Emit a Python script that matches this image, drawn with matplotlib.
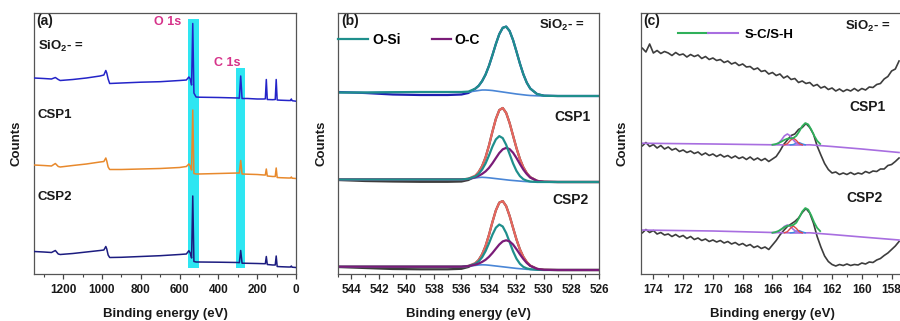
import matplotlib
matplotlib.use("Agg")
import matplotlib.pyplot as plt
from matplotlib.ticker import MultipleLocator
from matplotlib.lines import Line2D
from matplotlib.legend_handler import HandlerTuple

plt.rcParams["font.family"] = ["Liberation Sans", "DejaVu Sans"]
plt.rcParams["font.weight"] = "bold"
plt.rcParams["mathtext.fontset"] = "custom"
plt.rcParams["mathtext.rm"] = "Liberation Sans:bold"
plt.rcParams["mathtext.bf"] = "Liberation Sans:bold"
plt.rcParams["mathtext.it"] = "Liberation Sans:bold"

# ---------------- (a) survey spectra (counts offset per sample) ----------------
be_a = [1350, 1300, 1260, 1240, 1225, 1215, 1150, 1080, 1010, 990, 980, 975, 968, 960,
        900, 800, 700, 600, 565, 552, 545, 538, 532, 526, 515, 500, 400, 300, 292, 285,
        278, 250, 200, 165, 158, 153, 148, 120, 107, 102, 97, 80, 40, 28, 24, 20, 0]
sio2_a = [196, 195.5, 195, 196.5, 194.5, 193.5, 194.5, 196, 198, 199, 203.5, 201, 195, 190.5,
          191, 191.8, 192.3, 193.5, 194, 197, 195, 189, 250.5, 181, 177, 176.8, 176.5, 176, 175.8, 198,
          175.5, 175.5, 175, 175, 175.2, 194.5, 174.5, 174.3, 174.5, 194.5, 174, 173.8, 173.5, 173.5, 175, 173.3, 172.8]
csp1_a = [109, 108.5, 108, 110.5, 107.5, 107, 108.5, 110, 112, 112.5, 116, 113, 107, 104.5,
          104.5, 105, 105.5, 106.5, 107.5, 110, 108, 104, 164, 100.5, 100, 100, 100.5, 101, 101, 113.5,
          100, 99.8, 99.5, 99, 99, 105, 98, 97.5, 97.5, 106, 96.5, 96.3, 96, 96, 97, 95.8, 95.5]
csp2_a = [22.5, 22, 21.5, 23.5, 20, 19.5, 20.5, 22, 23.5, 24, 27.5, 25, 19, 16.5,
          16.7, 17.5, 18.3, 19.5, 20, 23.3, 21, 16, 78, 12.5, 12, 12, 11.8, 11.5, 11.3, 23.5,
          10.8, 10.7, 10.5, 10.3, 10.3, 17.5, 9.5, 9, 9, 18, 7.5, 7.3, 7, 7, 8, 6.8, 6.5]
# highlighted regions: (label, high BE, low BE, top)
bands = [("O 1s", 559, 498, 255), ("C 1s", 309, 261, 206)]

# ---------------- (b) O 1s fits ----------------
be_b = [545, 543, 541, 539, 537, 536, 535.5, 535, 534.75, 534.5, 534.25, 534, 533.75, 533.5,
        533.25, 533, 532.75, 532.5, 532.25, 532, 531.75, 531.5, 531.25, 531, 530.5, 530, 529, 527, 526]
raw_sio2_b = [182, 181, 179.5, 179, 179, 179.5, 181, 185.3, 188.2, 192.9, 199.4, 208.2, 218.8, 230,
              239.9, 246.2, 247.4, 243, 234, 222.4, 210.4, 199.7, 191.3, 185.5, 179.9, 178.3, 178, 178, 178]
env_sio2_b = [181.5, 181.5, 181.8, 182, 182, 182, 182.4, 185.3, 188.2, 192.9, 199.4, 208.2, 218.8, 230,
              239.9, 246.2, 247.4, 243, 234, 222.4, 210.4, 199.7, 191.3, 185.5, 179.9, 178.3, 178, 178, 178]
bg_sio2_b = [181.5, 181.5, 181.8, 182, 182, 182, 182, 183, 183.5, 184, 184, 183.8, 183.5, 183,
             182.5, 182, 181.5, 181, 180.5, 180, 179.6, 179.2, 178.8, 178.5, 178.2, 178, 178, 178, 178]

raw_csp1_b = [94, 93, 92.5, 92.2, 92.2, 92.5, 94, 97.5, 101.9, 107.8, 116.6, 128.5, 142.3, 155.1,
              163.9, 166.0, 161.1, 151.0, 138.4, 125.9, 115.0, 106.6, 100.8, 96.8, 93.1, 92.2, 92, 92, 92]
bg_csp1_b = [94.5, 94.5, 94.5, 94.5, 94.5, 94.5, 95, 96, 96.5, 96.7, 96.5, 96.2, 95.8, 95.4,
             95, 94.6, 94.2, 93.8, 93.5, 93.2, 92.9, 92.6, 92.4, 92.2, 92, 92, 92, 92, 92]
osi_csp1_b = [94.5, 94.5, 94.5, 94.5, 94.5, 94.5, 95.2, 97.6, 100.2, 104.4, 110.5, 118.6, 127.4, 134.6,
              137.9, 135.9, 129.2, 119.9, 110.6, 103.1, 97.9, 94.8, 93.3, 92.5, 92, 92, 92, 92, 92]
oc_csp1_b = [94.5, 94.5, 94.5, 94.5, 94.5, 94.5, 95.1, 96.8, 98.2, 100.1, 102.6, 106.1, 110.7, 115.9,
             121.0, 124.7, 126.1, 124.9, 121.3, 116.0, 110.0, 104.4, 99.9, 96.5, 93.1, 92.2, 92, 92, 92]
env_csp1_b = [94.5, 94.5, 94.5, 94.5, 94.5, 94.5, 95.3, 98.4, 101.9, 107.8, 116.6, 128.5, 142.3, 155.1,
              163.9, 166.0, 161.1, 151.0, 138.4, 125.9, 115.0, 106.6, 100.8, 96.8, 93.1, 92.2, 92, 92, 92]

raw_csp2_b = [7, 6, 5, 4.7, 4.7, 5.2, 7, 10.5, 14.0, 19.6, 27.9, 39.1, 51.9, 63.6,
              71.4, 72.9, 67.9, 58.1, 46.2, 34.5, 24.6, 17.1, 11.9, 8.4, 5.1, 4.2, 4, 4, 4]
bg_csp2_b = [7.3, 7.3, 7.3, 7.3, 7.3, 7.3, 7.8, 8.6, 9.0, 9.2, 9.1, 8.8, 8.4, 8.0,
             7.6, 7.2, 6.8, 6.4, 6.0, 5.6, 5.3, 5.0, 4.7, 4.5, 4.2, 4, 4, 4, 4]
osi_csp2_b = [7.3, 7.3, 7.3, 7.3, 7.3, 7.3, 8.0, 10.2, 12.6, 16.7, 22.8, 30.7, 39.3, 46.3,
              49.5, 47.5, 41.0, 31.9, 22.7, 15.3, 10.2, 7.1, 5.6, 4.8, 4.2, 4, 4, 4, 4]
oc_csp2_b = [7.3, 7.3, 7.3, 7.3, 7.3, 7.3, 7.9, 9.3, 10.4, 12.1, 14.2, 17.2, 21.0, 25.3,
             29.5, 32.6, 33.7, 32.6, 29.5, 24.8, 19.7, 15.0, 11.0, 8.1, 5.1, 4.2, 4, 4, 4]
env_csp2_b = [7.3, 7.3, 7.3, 7.3, 7.3, 7.3, 8.1, 10.9, 14.0, 19.6, 27.9, 39.1, 51.9, 63.6,
              71.4, 72.9, 67.9, 58.1, 46.2, 34.5, 24.6, 17.1, 11.9, 8.4, 5.1, 4.2, 4, 4, 4]

# ---------------- (c) S 2p ----------------
be_c = [175.0, 174.75, 174.5, 174.25, 174.0, 173.75, 173.5, 173.25, 173.0, 172.75, 172.5, 172.25,
        172.0, 171.75, 171.5, 171.25, 171.0, 170.75, 170.5, 170.25, 170.0, 169.75, 169.5, 169.25,
        169.0, 168.75, 168.5, 168.25, 168.0, 167.75, 167.5, 167.25, 167.0, 166.75, 166.5, 166.25,
        166.0, 165.75, 165.5, 165.25, 165.0, 164.75, 164.5, 164.25, 164.0, 163.75, 163.5, 163.25,
        163.0, 162.75, 162.5, 162.25, 162.0, 161.75, 161.5, 161.25, 161.0, 160.75, 160.5, 160.25,
        160.0, 159.75, 159.5, 159.25, 159.0, 158.75, 158.5, 158.25, 158.0, 157.75, 157.5]
sio2_c = [223.5, 226, 222, 230, 221, 223.5, 220.5, 222.5, 221, 218.5, 221.5, 219,
          220, 217, 219.5, 217.5, 219, 215.5, 217.5, 214.5, 216, 213.5, 214.5, 211.5,
          213, 210, 211.5, 208.5, 210, 207, 207.5, 204.5, 206, 202.5, 203.5, 200,
          201.5, 198.5, 200, 196, 198, 194.5, 195.5, 191.5, 193, 190.5, 191.5, 188,
          189.5, 186, 187.5, 184.5, 186, 183, 185, 182.5, 184.5, 183, 185.5, 183,
          185.5, 184, 187, 186.5, 189.5, 190.5, 195, 197.5, 203, 205, 213]
csp1_c = [130, 128, 131.5, 127.5, 129.5, 126, 128.5, 125, 127, 124, 125.5, 122.5,
          124, 121.5, 123, 120.5, 122, 119, 121, 118.5, 120, 117.5, 119.5, 117,
          118.5, 116, 118, 115.5, 117, 114.5, 117, 114, 116, 113.5, 115.5, 112.5,
          115, 117.5, 123, 129.5, 134, 138.5, 140, 144.5, 146.5, 150.5, 146.5, 140,
          128, 119, 110.5, 104.5, 101, 102, 99.5, 101, 99.5, 101.5, 99.5, 101,
          100, 102.5, 101, 103, 102.5, 105, 105, 108.5, 109.5, 112.5, 116]
csp2_c = [42.5, 41, 44.5, 41.5, 43.5, 40, 41.5, 39, 40, 37.5, 39.5, 37,
          38.5, 35.5, 37.5, 34.5, 36, 33.5, 35, 32.5, 34, 32, 33.5, 31,
          32.5, 30, 31.5, 29, 30.5, 28, 29.5, 26.5, 28, 25.5, 27, 24.5,
          29, 33.5, 39, 43.5, 47.5, 50, 52.5, 56, 61.5, 65.5, 61, 51,
          37.5, 27, 18, 12.5, 9.5, 8, 9.5, 8.5, 10, 8.5, 9.5, 9,
          11, 10, 12, 11.5, 14, 15.5, 18.5, 21, 24.5, 28, 32.5]
# fitted background lines
be_bg_c = [175, 170, 166, 164.5, 163.5, 162, 160, 157.5]
bg_csp1_c = [130.8, 130, 129.2, 129, 129.2, 127.5, 125, 121.5]
bg_csp2_c = [44, 43, 41.5, 41, 41.2, 39.5, 37, 34]
# fitted components
be_pk = [166.0, 165.8, 165.6, 165.4, 165.2, 165.0, 164.8, 164.6, 164.4, 164.2, 164.0,
         163.8, 163.6, 163.4, 163.2, 163.0, 162.8]
sc_csp1 = [129.3, 129.8, 130.8, 132.4, 134.1, 135.3, 135.6, 136.0, 138.1, 142.6, 147.9,
           150.9, 149.6, 144.6, 138.3, 133.2, 130.1]
sc_csp2 = [41.3, 41.9, 43.0, 44.9, 46.8, 48.2, 48.5, 49.0, 51.3, 56.5, 62.5,
           65.9, 64.4, 58.7, 51.6, 46.1, 42.9]
be_sh = [166.0, 165.8, 165.6, 165.4, 165.2, 165.0, 164.8, 164.6, 164.4, 164.2, 164.0]
sh_csp1 = [129.1, 129.5, 130.9, 134.0, 138.1, 140.0, 138.1, 134.0, 130.9, 129.5, 129.1]
sh_csp2 = [41.1, 41.4, 42.4, 44.6, 47.6, 49.0, 47.6, 44.6, 42.4, 41.4, 41.1]
be_red = [165.2, 165.0, 164.8, 164.6, 164.4, 164.2, 164.0]
red_csp1 = [129.2, 130.3, 133.6, 136.0, 133.6, 130.3, 129.2]
red_csp2 = [41.2, 42.3, 45.6, 48.0, 45.6, 42.3, 41.2]
be_blue = [164.8, 164.6, 164.4, 164.2, 164.0, 163.8]
blue_csp1 = [129.1, 129.5, 130.9, 131.4, 130.1, 129.2]
blue_csp2 = [41.1, 41.5, 42.9, 43.4, 42.1, 41.2]

TXT = "#1a1a1a"
TEAL = "#1f8f8c"
PURP = "#7a1c78"
RED = "#e8675e"
LBLUE = "#4a86d6"
GRAY = "#3d3d3d"
SIO2 = r"SiO$_{\mathbf{2}}$- ="

fig = plt.figure(figsize=(9, 3.21), dpi=100)
ax_a = fig.add_axes([34 / 900, 47 / 321, 262 / 900, 261 / 321])
ax_b = fig.add_axes([337.7 / 900, 47 / 321, 261.3 / 900, 261 / 321])
ax_c = fig.add_axes([640.7 / 900, 47 / 321, 264.3 / 900, 261 / 321])


def style(ax, xlim, major, minor):
    ax.set_xlim(*xlim)
    ax.set_ylim(0, 261)
    ax.set_yticks([])
    ax.xaxis.set_major_locator(MultipleLocator(major))
    ax.xaxis.set_minor_locator(MultipleLocator(minor))
    ax.tick_params(axis="x", which="major", direction="out", length=3.5, width=0.9,
                   color="#444444", labelsize=8.5, pad=3.5, labelcolor=TXT)
    ax.tick_params(axis="x", which="minor", direction="out", length=2, width=0.8, color="#444444")
    for s in ax.spines.values():
        s.set_color("#555555")
        s.set_linewidth(0.9)
    ax.set_xlabel("Binding energy (eV)", fontsize=9.5, fontweight="bold", color=TXT)
    ax.xaxis.set_label_coords(0.5, -0.13)
    ax.set_ylabel("Counts", fontsize=9.5, fontweight="bold", color=TXT)


# ---- (a)
style(ax_a, (1350, 0), 200, 100)
ax_a.yaxis.set_label_coords(-0.045, 0.5)
for name, hi, lo, top in bands:
    ax_a.fill_between([hi, lo], 6, top, color="#2ee6f2", lw=0, zorder=1)
ax_a.plot(be_a, sio2_a, color="#2424c8", lw=1.1, zorder=3)
ax_a.plot(be_a, csp1_a, color="#e8892c", lw=1.1, zorder=3)
ax_a.plot(be_a, csp2_a, color="#1c1c80", lw=1.1, zorder=3)
ax_a.text(0.511, 0.966, "O 1s", color="#d6338a", fontsize=9, ha="center", va="center", transform=ax_a.transAxes)
ax_a.text(0.737, 0.808, "C 1s", color="#d6338a", fontsize=9, ha="center", va="center", transform=ax_a.transAxes)
ax_a.text(0.008, 0.995, "(a)", fontsize=10, ha="left", va="top", color=TXT, transform=ax_a.transAxes)
ax_a.text(0.015, 0.871, SIO2, fontsize=9.5, ha="left", va="center", color=TXT, transform=ax_a.transAxes)
ax_a.text(0.015, 0.609, "CSP1", fontsize=9.5, ha="left", va="center", color=TXT, transform=ax_a.transAxes)
ax_a.text(0.015, 0.296, "CSP2", fontsize=9.5, ha="left", va="center", color=TXT, transform=ax_a.transAxes)

# ---- (b)
style(ax_b, (545, 526), 2, 1)
ax_b.yaxis.set_label_coords(-0.04, 0.5)
lw = 1.6
ax_b.plot(be_b, raw_sio2_b, color="#1f1fb0", lw=lw)
ax_b.plot(be_b, bg_sio2_b, color=LBLUE, lw=1.2)
ax_b.plot(be_b, env_sio2_b, color=TEAL, lw=lw)

ax_b.plot(be_b, raw_csp1_b, color=GRAY, lw=lw)
ax_b.plot(be_b, bg_csp1_b, color=LBLUE, lw=1.2)
ax_b.plot(be_b, env_csp1_b, color=RED, lw=lw)
h_oc, = ax_b.plot(be_b, oc_csp1_b, color=PURP, lw=lw, label="O-C")
h_osi, = ax_b.plot(be_b, osi_csp1_b, color=TEAL, lw=lw, label="O-Si")

ax_b.plot(be_b, raw_csp2_b, color=GRAY, lw=lw)
ax_b.plot(be_b, bg_csp2_b, color=LBLUE, lw=1.2)
ax_b.plot(be_b, env_csp2_b, color=RED, lw=lw)
ax_b.plot(be_b, osi_csp2_b, color=TEAL, lw=lw)
ax_b.plot(be_b, oc_csp2_b, color=PURP, lw=lw)

leg1 = ax_b.legend(handles=[h_osi], loc="upper left", bbox_to_anchor=(0.0, 0.925),
                   frameon=False, fontsize=10, handlelength=2.2, handletextpad=0.3,
                   borderaxespad=0, borderpad=0)
ax_b.add_artist(leg1)
ax_b.legend(handles=[h_oc], loc="upper left", bbox_to_anchor=(0.361, 0.925),
            frameon=False, fontsize=10, handlelength=1.4, handletextpad=0.2,
            borderaxespad=0, borderpad=0)
ax_b.text(0.012, 0.995, "(b)", fontsize=10, ha="left", va="top", color=TXT, transform=ax_b.transAxes)
ax_b.text(0.947, 0.954, SIO2, fontsize=9.5, ha="right", va="center", color=TXT, transform=ax_b.transAxes)
ax_b.text(0.967, 0.602, "CSP1", fontsize=10, ha="right", va="center", color=TXT, transform=ax_b.transAxes)
ax_b.text(0.959, 0.284, "CSP2", fontsize=10, ha="right", va="center", color=TXT, transform=ax_b.transAxes)

# ---- (c)
style(ax_c, (174.85, 157.1), 2, 1)
ax_c.yaxis.set_label_coords(-0.047, 0.5)
GREEN = "#2fb05a"
LAV = "#a86ee0"
ax_c.plot(be_c, sio2_c, color=GRAY, lw=1.2)
for raw, bg, sc, sh, rd, bl in [(csp1_c, bg_csp1_c, sc_csp1, sh_csp1, red_csp1, blue_csp1),
                                (csp2_c, bg_csp2_c, sc_csp2, sh_csp2, red_csp2, blue_csp2)]:
    ax_c.plot(be_c, raw, color=GRAY, lw=1.2)
    ax_c.plot(be_bg_c, bg, color=LAV, lw=1.2)
    ax_c.plot(be_blue, bl, color="#3a8ee0", lw=1.0)
    ax_c.plot(be_sh, sh, color=LAV, lw=1.2)
    ax_c.plot(be_red, rd, color="#e04848", lw=1.0)
    ax_c.plot(be_pk, sc, color=GREEN, lw=1.3)

h_g = Line2D([], [], color=GREEN, lw=1.5)
h_p = Line2D([], [], color=LAV, lw=1.5)
ax_c.legend(handles=[(h_g, h_p)], labels=["S-C/S-H"], loc="upper left",
            bbox_to_anchor=(0.14, 0.94), frameon=False, fontsize=9.5, handlelength=4.6,
            handletextpad=0.5, borderaxespad=0, borderpad=0,
            handler_map={tuple: HandlerTuple(ndivide=None, pad=0)})
ax_c.text(0.008, 0.995, "(c)", fontsize=10, ha="left", va="top", color=TXT, transform=ax_c.transAxes)
ax_c.text(0.947, 0.947, SIO2, fontsize=9.5, ha="right", va="center", color=TXT, transform=ax_c.transAxes)
ax_c.text(0.928, 0.64, "CSP1", fontsize=10, ha="right", va="center", color=TXT, transform=ax_c.transAxes)
ax_c.text(0.916, 0.293, "CSP2", fontsize=10, ha="right", va="center", color=TXT, transform=ax_c.transAxes)

fig.savefig("out.png", dpi=100)
